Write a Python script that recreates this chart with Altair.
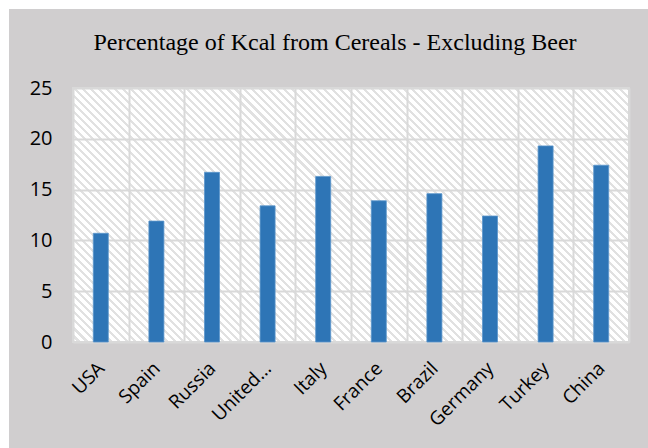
import altair as alt
import pandas as pd

# Share of dietary energy (kcal) coming from cereals, beer excluded
countries = ["USA", "Spain", "Russia", "United Kingdom", "Italy",
             "France", "Brazil", "Germany", "Turkey", "China"]
percent_kcal = [10.7, 11.9, 16.7, 13.4, 16.3, 13.9, 14.6, 12.4, 19.3, 17.4]
y_ticks = [0, 5, 10, 15, 20, 25]

df = pd.DataFrame({"country": countries, "pct": percent_kcal})

PLOT_W, PLOT_H = 556, 254
PAD = {"left": 73, "top": 88, "right": 19, "bottom": 106}

# Diagonal hatch for the plot background, built as a striped linear gradient
r = PLOT_H / PLOT_W
k = (1 + r) / (1 + r * r)
n_stripes = 101
duty = 0.38
stops = []
for i in range(n_stripes):
    a = i / n_stripes
    m = (i + 1 - duty) / n_stripes
    b = (i + 1) / n_stripes
    stops += [(a, "#ffffff"), (m, "#ffffff"), (m, "#e1e1e1"), (b, "#e1e1e1")]
stop_txt = ",".join("{offset:%.5f,color:'%s'}" % s for s in stops)
hatch = ("{gradient:'linear',x1:0,y1:1,x2:%.4f,y2:%.4f,stops:[%s]}"
         % (k, 1 - k * r, stop_txt))

bars = alt.Chart(df).mark_bar(
    color="#2e75b6", stroke="#5a95cc", strokeWidth=0.8,
    width=alt.RelativeBandSize(0.27),
).encode(
    x=alt.X("country:N", sort=countries, title=None,
            scale=alt.Scale(paddingInner=0, paddingOuter=0),
            axis=alt.Axis(labelAngle=-45, grid=True, tickBand="extent",
                          ticks=False, domain=False, labelFontSize=19,
                          labelFont="Open Sans", labelColor="#000000",
                          labelAlign="right", labelBaseline="middle",
                          labelPadding=23, labelOffset=0,
                          labelExpr="length(datum.label) > 10 ? slice(datum.label, 0, 6) + '...' : datum.label")),
    y=alt.Y("pct:Q", title=None,
            scale=alt.Scale(domain=[0, 25], nice=False),
            axis=alt.Axis(values=y_ticks, grid=True, ticks=False, domain=False,
                          labelFontSize=20, labelFont="Open Sans",
                          labelColor="#000000", labelPadding=21)),
)

# White margin strips along the top and left edges of the figure
strip_top = alt.Chart(df.head(1)).mark_rect(
    x=-PAD["left"], x2=PLOT_W + PAD["right"],
    y=-PAD["top"], y2=-PAD["top"] + 9,
).encode(color=alt.value("#ffffff"))
strip_left = alt.Chart(df.head(1)).mark_rect(
    x=-PAD["left"], x2=-PAD["left"] + 9,
    y=-PAD["top"], y2=PLOT_H + PAD["bottom"],
).encode(color=alt.value("#ffffff"))

chart = alt.layer(bars, strip_top, strip_left).properties(
    width=PLOT_W, height=PLOT_H,
    autosize=alt.AutoSizeParams(type="none"),
    padding=PAD,
    background="#d0cecf",
    view=alt.ViewBackground(fill=alt.ExprRef(expr=hatch),
                            stroke="#d9d9d9", strokeWidth=2),
    title=alt.TitleParams("Percentage of Kcal from Cereals - Excluding Beer",
                          font="Liberation Serif", fontSize=24,
                          fontWeight="normal", color="#000000",
                          anchor="middle", frame="group", baseline="alphabetic",
                          offset=0, dx=-16, dy=74),
).configure_axis(
    gridColor="#d9d9d9", gridWidth=2, gridOpacity=1,
)

chart.save("out.html", embed_options={"renderer": "svg", "actions": False})
